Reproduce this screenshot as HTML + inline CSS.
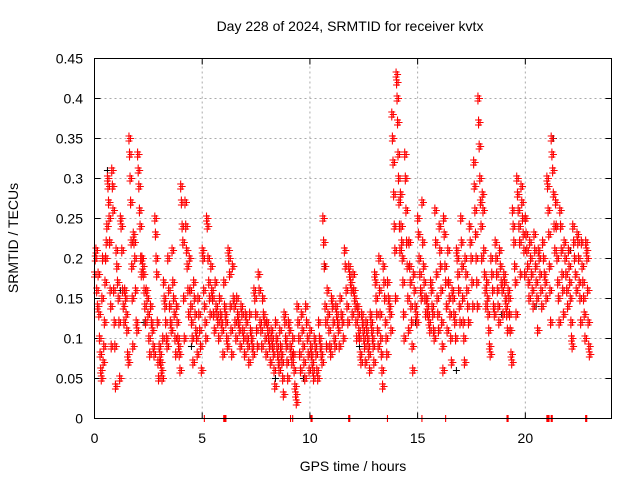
<!DOCTYPE html>
<html><head><meta charset="utf-8"><style>
body{margin:0;background:#fff}
svg{display:block;font-family:"Liberation Sans",sans-serif}
</style></head><body>
<svg id="chart" width="640" height="480">
<text x="350" y="31" font-size="14" text-anchor="middle" fill="#000">Day 228 of 2024, SRMTID for receiver kvtx</text>
<text x="353" y="471" font-size="14" text-anchor="middle">GPS time / hours</text>
<text transform="translate(18,238) rotate(-90)" font-size="14" text-anchor="middle">SRMTID / TECUs</text>
<g id="grid"></g>
<g id="ticks"></g>
<g id="points"></g>
<rect x="94.5" y="58.5" width="517" height="360" fill="none" stroke="#000"/>
</svg>
<script>
const xTicks=[0,5,10,15,20];
const yTicks=[0,0.05,0.1,0.15,0.2,0.25,0.3,0.35,0.4,0.45];
const yTickLabels=["0","0.05","0.1","0.15","0.2","0.25","0.3","0.35","0.4","0.45"];
const binHours=[0,0.2,0.4,0.6,0.8,1,1.2,1.4,1.6,1.8,2,2.2,2.4,2.6,2.8,3,3.2,3.4,3.6,3.8,4,4.2,4.4,4.6,4.8,5,5.2,5.4,5.6,5.8,6,6.2,6.4,6.6,6.8,7,7.2,7.4,7.6,7.8,8,8.2,8.4,8.6,8.8,9,9.2,9.4,9.6,9.8,10,10.2,10.4,10.6,10.8,11,11.2,11.4,11.6,11.8,12,12.2,12.4,12.6,12.8,13,13.2,13.4,13.6,13.8,14,14.2,14.4,14.6,14.8,15,15.2,15.4,15.6,15.8,16,16.2,16.4,16.6,16.8,17,17.2,17.4,17.6,17.8,18,18.2,18.4,18.6,18.8,19,19.2,19.4,19.6,19.8,20,20.2,20.4,20.6,20.8,21,21.2,21.4,21.6,21.8,22,22.2,22.4,22.6,22.8];
const binValues=[[18,20,21,16,14,18],[13,10,8,6,5,15,20],[7,9,12,17,20,22,24],[30,29,27,25,22,16,14,9],[31,29,26,16,12,9,4],[21,19,17,15,12,5],[25,24,21,16,14,12],[16,15,13,11,8,7],[35,33,30,27,22,19,15,9],[23,22,20,16,12,11],[33,31,29,26,24,20,18],[20,19,18,16,14,12],[16,15,13,10,8],[14,12,11,9,8],[25,23,20,18,12,7,5],[9,8,7,6,5,10],[17,15,14,12,10,9],[20,16,14,12,11],[21,17,15,13,10,8],[14,12,10,9,8,6],[29,27,24,22,15,10],[27,24,21,19,16,13],[20,16,14,12,10,7],[17,15,13,11,10,8],[15,13,11,9,6],[21,20,16,14,12,10],[25,24,20,17,15,13],[19,16,15,13,11],[17,14,13,12,10],[15,13,12,11,8],[17,14,13,12,10,9],[21,20,18,14,11,8],[19,15,14,12,10],[15,13,12,11,9],[14,13,11,10,8],[13,12,10,9,7],[13,11,10,9,8],[16,15,13,11,9],[18,16,12,11,9],[15,13,12,10,8],[12,11,10,9,7],[11,10,9,8,6,4],[12,10,9,8,7,6],[11,9,8,7,5,3],[13,12,10,9,7,5],[12,11,9,8,7],[10,8,6,4,3,2],[14,12,10,8,6],[13,11,9,7,5],[14,12,10,8,6],[11,9,8,7,6,5],[10,9,8,6,5],[12,10,9,8,7],[25,22,19,14,12,9],[16,13,11,9,8],[15,14,12,10,9],[14,13,12,11,9],[15,13,12,10],[21,19,16,14,12],[19,18,17,16,13],[18,16,15,14,12,10],[14,13,11,10,8,7],[13,12,11,10,9,7],[12,11,10,9,8,6],[13,12,11,10,9,7],[18,17,15,13,11,9],[20,16,13,10,8,6,4],[19,17,15,12,10,8],[17,15,14,13,11],[38,35,32,28,24,21,15],[43,42,40,37,33,30,27,24,21],[28,24,22,20,17,13,10],[33,30,26,22,19,15,11],[22,19,17,14,12,9,6],[18,16,14,13,12],[25,23,20,18,16,15],[27,22,19,17,15,13],[15,14,13,12,11],[17,16,14,13,11,10],[26,22,18,15,13,11],[24,21,19,16,12,9,6],[25,23,19,17,14,11],[21,17,15,13,10,7],[16,15,13,12,10],[21,20,18,16,14,12],[25,22,19,15,12,10,7],[20,18,16,14,12],[24,22,20,17,14],[32,29,26,23,20,17,14],[40,37,34,30,27,24,20],[28,26,21,18,16,14],[17,15,13,11,9,8],[20,18,16,14,13],[22,20,18,16,14,12],[21,19,17,16,13],[18,17,15,14,13,11],[16,15,13,11,8,7],[26,24,22,19,17,13],[30,28,26,24,22,18],[29,27,25,23,21,18],[25,23,21,19,17,15],[22,20,18,16,14],[23,21,19,17,15,11],[21,20,18,16,14],[22,20,18,17,15],[30,29,26,23,19,16,12],[35,33,31,28,24,21],[27,24,20,17,15,12],[26,24,21,18,16,13],[22,20,18,16,14],[21,19,17,15,12,10,9],[24,22,20,18,16],[23,22,20,17,15,12],[22,19,17,15,13,10],[22,21,20,16,12,9,8]];
const zeroHours=[5.1,6.0,6.05,6.1,9.1,9.2,10.05,10.1,11.8,11.85,13.6,15.2,16.3,19.15,19.2,21.0,21.05,21.1,21.2,21.25,22.8,22.85];
const blackHours=[0.6,1.2,2.3,4.5,6.6,8.4,9.7,10.7,12.3,14.9,16.8,18.9,20.5,21.3,22.1];
const blackValues=[0.31,0.16,0.12,0.09,0.12,0.05,0.05,0.19,0.09,0.12,0.06,0.13,0.14,0.35,0.21];

const X0=94.5,X1=611.5,Y0=418.5,Y1=58.5;
const xs=h=>X0+(h/24)*(X1-X0);
const ys=v=>Y0-(v/0.45)*(Y0-Y1);
const NS="http://www.w3.org/2000/svg";
const grid=document.getElementById('grid'),ticks=document.getElementById('ticks'),pts=document.getElementById('points');
function mk(tag,attrs,parent){const e=document.createElementNS(NS,tag);for(const k in attrs)e.setAttribute(k,attrs[k]);parent.appendChild(e);return e;}
xTicks.forEach(t=>{const x=xs(t);
 if(t>0){const g=mk('line',{x1:x,x2:x,y1:Y0,y2:Y1,stroke:'#aaa','stroke-dasharray':'2,3'},grid);
 
 }
 mk('line',{x1:x,x2:x,y1:Y0,y2:Y0-6,stroke:'#000'},ticks);
 mk('line',{x1:x,x2:x,y1:Y1,y2:Y1+6,stroke:'#000'},ticks);
 const l=mk('text',{x:x,y:443,'font-size':14,'text-anchor':'middle'},ticks);l.textContent=t;
 
 
});
yTicks.forEach((t,i)=>{const y=ys(t);
 if(t>0&&t<0.45){const g=mk('line',{x1:X0,x2:X1,y1:y,y2:y,stroke:'#aaa','stroke-dasharray':'2,3'},grid);
 
 }
 mk('line',{x1:X0,x2:X0+6,y1:y,y2:y,stroke:'#000'},ticks);
 mk('line',{x1:X1,x2:X1-6,y1:y,y2:y,stroke:'#000'},ticks);
 const l=mk('text',{x:83,y:y+5,'font-size':14,'text-anchor':'end'},ticks);l.textContent=yTickLabels[i];
 
 
});
let d='';
function plus(h,v,dy){const x=xs(h),y=ys(v)+(dy||0);return `M${x-3.5},${y}h7M${x},${y-3.5}v7`;}
let db='';
blackHours.forEach((h,i)=>{db+=plus(h,blackValues[i]);});
const bp=mk('path',{d:db,stroke:'#000','stroke-width':1,fill:'none'},pts);


binHours.forEach((h,i)=>{const vals=binValues[i];vals.forEach((v,j)=>{
  const t=h+0.2*j/vals.length;
  d+=plus(t,v/100,-2.5)+plus(t,v/100,2.5)+plus(t+0.07,v/100,0);});});
zeroHours.forEach(h=>{d+=plus(h,0);});
const rp=mk('path',{d:d,stroke:'#f00','stroke-width':1.1,fill:'none'},pts);


</script>
</body></html>
